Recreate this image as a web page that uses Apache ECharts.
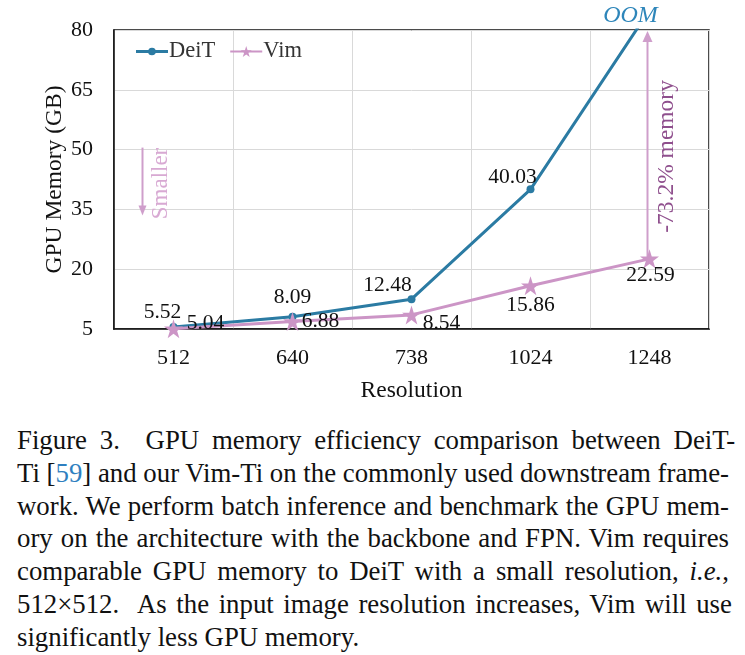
<!DOCTYPE html>
<html><head><meta charset="utf-8">
<script src="https://cdn.jsdelivr.net/npm/echarts@6/dist/echarts.min.js"></script>
<style>
body{margin:0;background:#fff;width:745px;height:655px;overflow:hidden;position:relative;font-family:"Liberation Serif",serif;}
#chart{position:absolute;left:0;top:0;width:745px;height:410px;}
#cap{position:absolute;left:17px;top:424px;width:712px;font-size:26.8px;line-height:32.8px;color:#111;font-family:"Liberation Serif",serif;}
#cap .ln{white-space:nowrap;height:32.8px;}
#cap .ref{color:#2f7fc0;}
</style></head>
<body>
<div id="chart"></div>
<div id="cap">
<div class="ln j">Figure 3.&nbsp; GPU memory efficiency comparison between DeiT-</div>
<div class="ln j">Ti [<span class="ref">59</span>] and our Vim-Ti on the commonly used downstream frame-</div>
<div class="ln j">work. We perform batch inference and benchmark the GPU mem-</div>
<div class="ln j">ory on the architecture with the backbone and FPN. Vim requires</div>
<div class="ln j">comparable GPU memory to DeiT with a small resolution, <i>i.e.</i>,</div>
<div class="ln j">512×512.&nbsp; As the input image resolution increases, Vim will use</div>
<div class="ln">significantly less GPU memory.</div>
</div>
<script>
// ---- data ----
const categories = ['512', '640', '738', '1024', '1248'];
const deitValues = [5.52, 8.09, 12.48, 40.03, 85];   // last point is OOM (beyond axis)
const vimValues = [5.04, 6.88, 8.54, 15.86, 22.59];
const yTicks = [5, 20, 35, 50, 65, 80];
const reductionText = '-73.2% memory';

// ---- styles ----
const FONT = '"Liberation Serif", serif';
const DEIT_COLOR = '#2b7ba3';
const VIM_COLOR = '#cc95c6';
const deitLabelOffsets = [[-11, -15], [0, -19], [-24, -14], [-18, -12], null];
const vimLabelOffsets = [[32, -5], [28, 0], [30, 8], [0, 20], [1, 16]];
const STAR = 'path://M50,0 L61.2,34.5 L97.6,34.5 L68.2,55.9 L79.4,90.5 L50,69.1 L20.6,90.5 L31.8,55.9 L2.4,34.5 L38.8,34.5 Z';

function withLabels(values, offsets) {
  return values.map((v, i) => ({
    value: v,
    label: offsets[i] ? { show: true, offset: offsets[i] } : { show: false }
  }));
}

const chart = echarts.init(document.getElementById('chart'), null, { renderer: 'canvas' });
const option = {
  animation: false,
  textStyle: { fontFamily: FONT },
  grid: { left: 114, right: 36, top: 30, bottom: 81, show: true, borderColor: '#111', borderWidth: 1.5, backgroundColor: 'transparent' },
  legend: {
    left: 131, top: 35, itemWidth: 32, itemHeight: 14, itemGap: 14,
    textStyle: { fontFamily: FONT, fontSize: 22.5, color: '#333', padding: [0, 0, 0, -4] },
    data: [
      { name: 'DeiT', icon: 'path://M0,45 L100,45 L100,55 L0,55 Z M50,38 A12,12 0 1 1 49.9,38 Z' },
      { name: 'Vim' }
    ]
  },
  xAxis: {
    type: 'category', data: categories, boundaryGap: true,
    name: 'Resolution', nameLocation: 'middle', nameGap: 50, nameMoveOverlap: false,
    nameTextStyle: { fontFamily: FONT, fontSize: 23.5, color: '#111' },
    axisLine: { lineStyle: { color: '#111', width: 1.5 } },
    axisTick: { show: false },
    axisLabel: { fontFamily: FONT, fontSize: 22, color: '#111', margin: 18 },
    splitLine: { show: true, lineStyle: { color: '#d9d9d9', width: 1 } }
  },
  yAxis: {
    type: 'value', min: yTicks[0], max: yTicks[yTicks.length - 1], interval: yTicks[1] - yTicks[0],
    name: 'GPU Memory (GB)', nameLocation: 'middle', nameGap: 47, nameMoveOverlap: false,
    nameTextStyle: { fontFamily: FONT, fontSize: 23.5, color: '#111' },
    axisLine: { show: true, lineStyle: { color: '#111', width: 1.5 } },
    axisTick: { show: false },
    axisLabel: { fontFamily: FONT, fontSize: 22, color: '#111', margin: 21 },
    splitLine: { show: true, lineStyle: { color: '#d9d9d9', width: 1 } }
  },
  series: [
    {
      name: 'DeiT', type: 'line', data: withLabels(deitValues, deitLabelOffsets),
      clip: true, z: 3,
      symbol: 'circle', symbolSize: 8,
      lineStyle: { color: DEIT_COLOR, width: 3 },
      itemStyle: { color: DEIT_COLOR },
      label: { position: 'inside', align: 'center', verticalAlign: 'middle', fontFamily: FONT, fontSize: 21.5, color: '#111' }
    },
    {
      name: 'Vim', type: 'line', data: withLabels(vimValues, vimLabelOffsets),
      clip: false, z: 4,
      symbol: STAR, symbolSize: 19,
      lineStyle: { color: VIM_COLOR, width: 3 },
      itemStyle: { color: VIM_COLOR },
      label: { position: 'inside', align: 'center', verticalAlign: 'middle', fontFamily: FONT, fontSize: 21.5, color: '#111' }
    }
  ]
};
chart.setOption(option);

// ---- annotations placed via the chart's own scales ----
const last = categories.length - 1;
const pTop = chart.convertToPixel({ gridIndex: 0 }, [last, yTicks[yTicks.length - 1]]);
const pVim = chart.convertToPixel({ gridIndex: 0 }, [last, vimValues[last]]);
const pS1 = chart.convertToPixel({ gridIndex: 0 }, [0, 50.5]);
const pS2 = chart.convertToPixel({ gridIndex: 0 }, [0, 33.5]);
const sx = pS1[0] - 31;
const ARROW_C = '#cf9ecb';
chart.setOption({
  graphic: [
    { type: 'text', x: pTop[0] - 19, y: pTop[1] - 14, style: { text: 'OOM', font: 'italic 24px "Liberation Serif", serif', fill: '#2e86ba', align: 'center', verticalAlign: 'middle' }, z: 10 },
    { type: 'line', shape: { x1: pVim[0] - 2, y1: pVim[1], x2: pVim[0] - 2, y2: pTop[1] + 8 }, style: { stroke: ARROW_C, lineWidth: 2 }, z: 2 },
    { type: 'polygon', shape: { points: [[pVim[0] - 2, pTop[1] + 1], [pVim[0] - 7, pTop[1] + 12], [pVim[0] + 3, pTop[1] + 12]] }, style: { fill: ARROW_C }, z: 2 },
    { type: 'text', x: pVim[0] + 17, y: (pTop[1] + pVim[1]) / 2 + 12, rotation: Math.PI / 2, style: { text: reductionText, font: '23.5px "Liberation Serif", serif', fill: '#8f4f8d', align: 'center', verticalAlign: 'middle' }, z: 10 },
    { type: 'line', shape: { x1: sx, y1: pS1[1], x2: sx, y2: pS2[1] - 8 }, style: { stroke: ARROW_C, lineWidth: 2 } },
    { type: 'polygon', shape: { points: [[sx, pS2[1]], [sx - 4, pS2[1] - 10], [sx + 4, pS2[1] - 10]] }, style: { fill: ARROW_C } },
    { type: 'text', x: sx + 18, y: (pS1[1] + pS2[1]) / 2 + 2, rotation: Math.PI / 2, style: { text: 'Smaller', font: '23px "Liberation Serif", serif', fill: '#d8a9d3', align: 'center', verticalAlign: 'middle' } }
  ]
});

// ---- justify caption lines ----
const target = 712;
document.querySelectorAll('#cap .ln').forEach(el => {
  const span = document.createElement('span');
  while (el.firstChild) span.appendChild(el.firstChild);
  el.appendChild(span);
  if (el.classList.contains('j')) {
    const w = span.getBoundingClientRect().width;
    const n = (span.textContent.match(/ /g) || []).length;
    if (n > 0) span.style.wordSpacing = ((target - w) / n) + 'px';
  }
});
</script>
</body></html>
